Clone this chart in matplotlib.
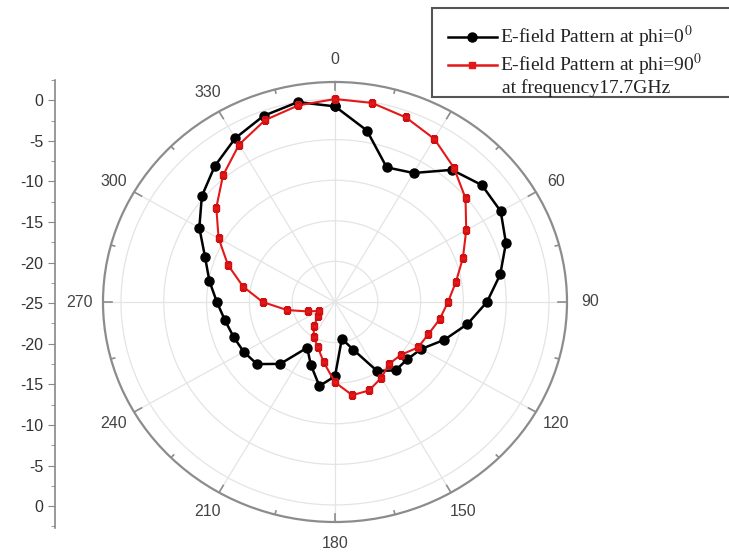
import numpy as np
import matplotlib
matplotlib.use('Agg')
import matplotlib.pyplot as plt
from matplotlib.patches import Rectangle
from matplotlib.lines import Line2D

plt.rcParams['mathtext.fontset'] = 'stix'

# angles in degrees, every 10 deg
angles = list(range(0, 360, 10))

# E-field pattern at phi=0 (dB)
e_phi0 = [-0.9, -3.55, -7.35, -6.65, -3.75, -2.6, -2.65, -3.75, -5.4, -7.25,
          -9.3, -11.4, -13.4, -14.0, -14.0, -15.2, -18.75, -20.4, -15.85, -14.5,
          -16.75, -18.5, -15.05, -13.1, -12.7, -12.4, -11.95, -11.2, -10.1, -8.85,
          -6.7, -4.7, -3.15, -1.7, -0.6, 0.0]

# E-field pattern at phi=90 (dB)
e_phi90 = [0.0, -0.1, -0.8, -1.8, -3.4, -5.1, -7.3, -9.1, -10.65, -11.8,
           -12.6, -13.4, -13.8, -14.9, -15.1, -14.2, -13.4, -13.35, -15.1, -17.45,
           -19.1, -20.0, -21.2, -22.4, -22.8, -21.6, -19.3, -16.55, -14.1, -11.7,
           -9.3, -6.9, -4.65, -2.6, -1.15, -0.4]

angle_labels = list(range(0, 360, 30))
r_grid = [-20, -15, -10, -5, 0]
left_ticks = [-25, -20, -15, -10, -5, 0, 5, 10, 15, 20, 25]

legend_lines = ['E-field Pattern at phi=0$^{\\mathrm{0}}$',
                'E-field Pattern at phi=90$^{\\mathrm{0}}$']
legend_note = 'at frequency17.7GHz'

r_min, r_max = -25, 2.1

W, H = 729, 553
fig = plt.figure(figsize=(W / 100, H / 100), dpi=100)

# polar plot (stretched a bit horizontally like the original)
ax = fig.add_axes([103 / W, 1 - 522 / H, 464 / W, 440 / H], projection='polar')
ax.set_aspect('auto')
ax.set_theta_zero_location('N')
ax.set_theta_direction(-1)
ax.set_rlim(r_min, r_max)

th = np.deg2rad(angles + [360])
ax.plot(th, e_phi0 + e_phi0[:1], color='black', lw=1.8, marker='o',
        markersize=6.5, zorder=3)
ax.plot(th, e_phi90 + e_phi90[:1], color='#e41818', lw=1.5, marker='s',
        markersize=5, markeredgecolor='#d01010', zorder=4)

ax.set_yticks(r_grid)
ax.set_yticklabels([])
ax.set_xticks(np.deg2rad(angle_labels))
ax.set_xticklabels([])
ax.tick_params(axis='x', length=0)
ax.grid(True, color='#e4e4e4', lw=0.9)
ax.spines['polar'].set_color('#8c8c8c')
ax.spines['polar'].set_linewidth(1.6)

# inward ticks on the outer ring
for a in range(0, 360, 15):
    tl = 1.0 if a % 30 == 0 else 0.45
    ax.plot([np.deg2rad(a)] * 2, [r_max - tl, r_max], color='#8c8c8c', lw=1.2,
            zorder=2)

lab_r = r_max + 0.1 * (r_max - r_min)
for a in angle_labels:
    ax.text(np.deg2rad(a), lab_r, str(a), ha='center', va='center',
            fontsize=11.5, color='#444444', family='Liberation Sans')

# left vertical dB scale
lax = fig.add_axes([55 / W, 1 - 528 / H, 0.0005, 448 / H])
lax.set_ylim(-27.7, 27.5)
lax.set_xticks([])
for s in ['top', 'right', 'bottom']:
    lax.spines[s].set_visible(False)
lax.spines['left'].set_color('#888888')
lax.spines['left'].set_linewidth(1.2)
lax.set_yticks(left_ticks)
lax.set_yticklabels([str(-(25 - abs(v))) if abs(v) != 25 else '0' for v in left_ticks],
                    fontsize=11.5, color='#333333', family='Liberation Sans')
lax.set_yticks(np.arange(-27.5, 27.6, 2.5), minor=True)
lax.tick_params(axis='y', which='major', direction='out', length=5, color='#888888')
lax.tick_params(axis='y', which='minor', direction='out', length=3, color='#888888')

# legend box drawn by hand (runs off the right edge)
fig.patches.append(Rectangle((432 / W, 1 - 97 / H), 320 / W, 89 / H,
                             transform=fig.transFigure, facecolor='white',
                             edgecolor='#555555', lw=1.5, zorder=5))
for y, col, mk, ms, txt in [(37, 'black', 'o', 6.5, legend_lines[0]),
                            (65, '#e41818', 's', 5, legend_lines[1])]:
    fig.lines.append(Line2D([448 / W, 497 / W], [1 - y / H, 1 - y / H],
                            transform=fig.transFigure, color=col, lw=1.8, zorder=6))
    fig.lines.append(Line2D([472 / W], [1 - y / H], transform=fig.transFigure,
                            color=col, marker=mk, markersize=ms, zorder=7))
    fig.text(500 / W, 1 - y / H, txt, ha='left', va='center', fontsize=14,
             family='Liberation Serif', color='#222222', zorder=8)
fig.text(502 / W, 1 - 88 / H, legend_note, ha='left', va='center', fontsize=14,
         family='Liberation Serif', color='#222222', zorder=8)

fig.savefig('out.png', dpi=100)
